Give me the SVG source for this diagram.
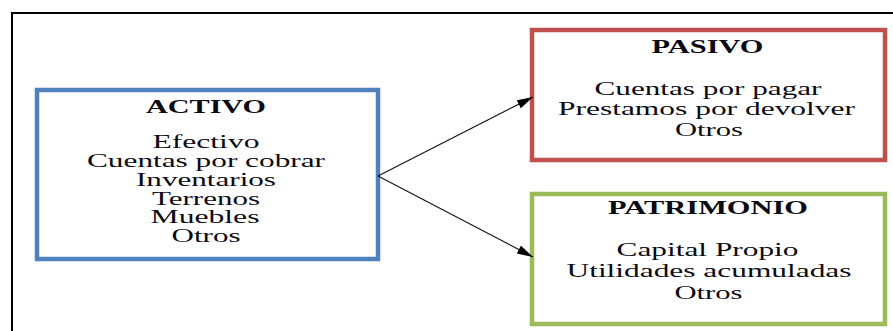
<svg xmlns="http://www.w3.org/2000/svg" width="893" height="331" viewBox="0 0 893 331">
  <style>
    .frame { fill: none; stroke: #000; stroke-width: 2; }
    .box { fill: #fff; stroke-width: 4.5; }
    .activo { stroke: #4f81bd; }
    .pasivo { stroke: #c0504d; }
    .patrimonio { stroke: #9bbb59; }
    text { font-family: "Liberation Serif", "Times New Roman", serif; fill: #0a0a14; text-anchor: middle; }
    .title { font-size: 19px; font-weight: bold; }
    .item { font-size: 18px; }
    .conn { stroke: #111; stroke-width: 1.1; fill: none; }
  </style>
  <defs>
    <marker id="arrow" markerUnits="userSpaceOnUse" markerWidth="17" markerHeight="10" refX="16" refY="4.5" orient="auto">
      <path d="M0,0 L16,4.5 L0,9 Z" fill="#000"/>
    </marker>
  </defs>

  <rect class="frame" x="12" y="13" width="900" height="340"/>

  <g id="activo">
    <rect class="box activo" x="37" y="90" width="341" height="169"/>
    <text class="title" x="206" y="113" textLength="120" lengthAdjust="spacingAndGlyphs">ACTIVO</text>
    <text class="item" x="206" y="148" textLength="107" lengthAdjust="spacingAndGlyphs">Efectivo</text>
    <text class="item" x="206" y="167" textLength="238" lengthAdjust="spacingAndGlyphs">Cuentas por cobrar</text>
    <text class="item" x="206" y="186" textLength="140" lengthAdjust="spacingAndGlyphs">Inventarios</text>
    <text class="item" x="206" y="205" textLength="108" lengthAdjust="spacingAndGlyphs">Terrenos</text>
    <text class="item" x="205" y="223" textLength="109" lengthAdjust="spacingAndGlyphs">Muebles</text>
    <text class="item" x="206" y="242" textLength="69" lengthAdjust="spacingAndGlyphs">Otros</text>
  </g>

  <g id="pasivo">
    <rect class="box pasivo" x="532" y="30" width="353" height="130"/>
    <text class="title" x="707.5" y="53" textLength="112" lengthAdjust="spacingAndGlyphs">PASIVO</text>
    <text class="item" x="708" y="95" textLength="227" lengthAdjust="spacingAndGlyphs">Cuentas por pagar</text>
    <text class="item" x="706.5" y="115" textLength="297" lengthAdjust="spacingAndGlyphs">Prestamos por devolver</text>
    <text class="item" x="709" y="136" textLength="68" lengthAdjust="spacingAndGlyphs">Otros</text>
  </g>

  <g id="patrimonio">
    <rect class="box patrimonio" x="532" y="194" width="353" height="130"/>
    <text class="title" x="708" y="214" textLength="200" lengthAdjust="spacingAndGlyphs">PATRIMONIO</text>
    <text class="item" x="707.5" y="256" textLength="182" lengthAdjust="spacingAndGlyphs">Capital Propio</text>
    <text class="item" x="709" y="277" textLength="285" lengthAdjust="spacingAndGlyphs">Utilidades acumuladas</text>
    <text class="item" x="708.5" y="299" textLength="68" lengthAdjust="spacingAndGlyphs">Otros</text>
  </g>

  <g id="connectors">
    <path class="conn" d="M378,176 L533,97" marker-end="url(#arrow)"/>
    <path class="conn" d="M378,176 L533,257" marker-end="url(#arrow)"/>
  </g>
</svg>
